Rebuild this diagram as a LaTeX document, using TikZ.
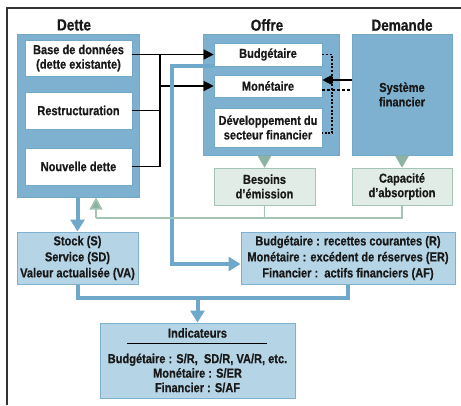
\documentclass[tikz,border=0pt]{standalone}
\usepackage{fontspec}
\setmainfont{Liberation Sans}[FakeStretch=0.85, BoldFeatures={FakeBold=0.5}]
\usetikzlibrary{arrows.meta}
\definecolor{bigfill}{HTML}{7EB1CF}
\definecolor{bigdraw}{HTML}{72A8C8}
\definecolor{lightfill}{HTML}{B5D4E6}
\definecolor{lightdraw}{HTML}{7EB1CF}
\definecolor{greenfill}{HTML}{E2ECE6}
\definecolor{greendraw}{HTML}{A6C4B5}
\definecolor{greenline}{HTML}{A3C3B3}
\definecolor{greentri}{HTML}{8DB3A2}
\definecolor{blueline}{HTML}{6FA8CB}
\definecolor{framecol}{HTML}{333333}
\tikzset{
  every node/.style={font=\bfseries\fontsize{13}{14.5}\selectfont, align=center, inner sep=0pt, text=black!90},
  bigbox/.style={draw=bigdraw, fill=bigfill, line width=1pt},
  whitebox/.style={draw=bigdraw, fill=white, line width=0.6pt},
  lightbox/.style={draw=lightdraw, fill=lightfill, line width=1pt},
  greenbox/.style={draw=greendraw, fill=greenfill, line width=1pt},
  title/.style={font=\bfseries\fontsize{16}{18}\selectfont},
  wide/.style={font=\bfseries\fontsize{13}{16}\selectfont},
  blk/.style={black, line width=1.2pt},
  blkarrow/.style={blk, -{Triangle[length=10pt,width=10pt]}},
  bluethick/.style={blueline, line width=4pt},
  bluearrow/.style={bluethick, -{Triangle[length=12pt,width=14pt]}},
  grn/.style={greenline, line width=1.6pt},
  grnarrow/.style={grn, -{Triangle[length=12pt,width=13pt,fill=greentri]}},
  tri/.style={greentri, line width=0.1pt, -{Triangle[length=12pt,width=14pt]}},
}
\begin{document}
\begin{tikzpicture}[x=1pt,y=-1pt]
\useasboundingbox (0,0) rectangle (461,405);
% frame
\draw[framecol, line width=1.3pt] (7,405) -- (7,8) -- (461,8);

% titles
\node[title] (tdette) at (74,25) {Dette};
\node[title] (toffre) at (267,25) {Offre};
\node[title] (tdemande) at (402,25) {Demande};

% big boxes
\node[bigbox, minimum width=122pt, minimum height=163pt] (dette) at (78,115.5) {};
\node[bigbox, minimum width=136pt, minimum height=121pt] (offre) at (271,94.5) {};
\node[bigbox, minimum width=100pt, minimum height=121pt] (demande) at (402,94.5) {Système\\financier};

% dette inner
\node[whitebox, minimum width=107pt, minimum height=36pt] (base) at (78.5,58) {Base de données\\(dette existante)};
\node[whitebox, minimum width=107pt, minimum height=37pt] (restr) at (78.5,110.5) {Restructuration};
\node[whitebox, minimum width=107pt, minimum height=37pt] (nouv) at (78.5,166.5) {Nouvelle dette};

% offre inner
\node[whitebox, minimum width=108pt, minimum height=23pt] (bud) at (268,54.5) {Budgétaire};
\node[whitebox, minimum width=108pt, minimum height=22pt] (mon) at (268,86) {Monétaire};
\node[whitebox, minimum width=108pt, minimum height=39pt] (dev) at (268,127.5) {Développement du\\secteur financier};

% green boxes
\node[greenbox, minimum width=101pt, minimum height=37pt] (bes) at (264.5,186.5) {Besoins\\d’émission};
\node[greenbox, minimum width=100pt, minimum height=37pt] (cap) at (402,186.5) {Capacité\\d’absorption};

% light boxes
\node[lightbox, wide, minimum width=121pt, minimum height=52pt] (stock) at (77.5,258) {Stock (S)\\Service (SD)\\Valeur actualisée (VA)};
\node[lightbox, wide, minimum width=214pt, minimum height=52pt] (res) at (348,258) {Budgétaire : recettes courantes (R)\\Monétaire : excédent de réserves (ER)\\Financier :\ \ actifs financiers (AF)};
\node[lightbox, minimum width=195pt, minimum height=75pt] (ind) at (197.5,360.5) {};
\node (indt) at (197.5,333) {Indicateurs};
\node (indl) at (197.5,373) {Budgétaire : S/R,\ \ SD/R, VA/R, etc.\\Monétaire : S/ER\\Financier : S/AF};
\coordinate (rl) at (127,343);
\coordinate (rr) at (267,343);
\draw[black, line width=1pt] (rl) -- (rr);

% green triangles
\draw[tri] (bes.north |- offre.south) -- (bes.north);
\draw[tri] (cap.north |- demande.south) -- (cap.north);

% black connectors
\coordinate (J) at (160,0);
\draw[blkarrow] (base.east |- bud.west) -- (bud.west);
\draw[blk] (J |- bud.west) -- (J |- nouv.east);
\draw[blk] (restr.east) -- (J |- restr.east);
\draw[blk] (nouv.east) -- (J |- nouv.east);
\draw[blkarrow] (J |- mon.west) -- (mon.west);

% dotted
\coordinate (dx) at (332,0);
\coordinate (dv) at (0,133);
\draw[black, line width=1.2pt, dash pattern=on 2pt off 1.6pt] (bud.east) -- (dx |- bud.east) -- (dx |- dv) -- (dev.east |- dv);
\coordinate (ya) at (0,80);
\coordinate (yd) at (0,90);
\draw[blkarrow] (demande.west |- ya) -- (mon.east |- ya);
\draw[black, line width=1.2pt, dash pattern=on 3pt off 2pt] (mon.east |- yd) -- (demande.west |- yd);

% blue thick
\coordinate (bx) at (172,0);
\coordinate (by) at (0,264);
\draw[bluearrow] (bud.south west) -- (bx |- bud.south west) -- (bx |- by) -- (res.west |- by);
\draw[bluearrow] (dette.south -| stock.north) -- (stock.north);

% green feedback
\coordinate (gy) at (0,218);
\coordinate (gx) at (96,0);
\draw[grn] (bes.south) -- (bes.south |- gy);
\draw[grn] (cap.south) -- (cap.south |- gy) -- (gx |- gy);
\draw[grnarrow] (gx |- gy) -- (gx |- dette.south);

% bottom blue connector
\coordinate (ly) at (0,298);
\draw[bluethick] (stock.south) -- (stock.south |- ly) -- (res.south |- ly) -- (res.south);
\draw[bluearrow] (ind.north |- ly) -- (ind.north);
\end{tikzpicture}
\end{document}
